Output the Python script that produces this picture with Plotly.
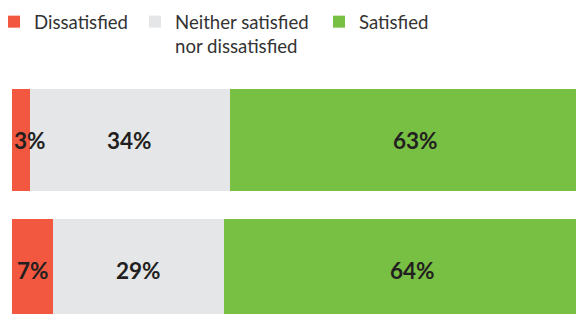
import plotly.graph_objects as go

rows = [0, 1]
categories = ["Dissatisfied", "Neither satisfied<br>nor dissatisfied", "Satisfied"]
dissatisfied = [3, 7]
neither = [34, 29]
satisfied = [63, 64]
colors = ["#F2573F", "#E5E6E8", "#78C044"]
legend_widths = [110, 153, None]

series = [dissatisfied, neither, satisfied]
fig = go.Figure()
for name, vals, col, lw in zip(categories, series, colors, legend_widths):
    fig.add_trace(go.Bar(
        y=rows, x=vals, orientation="h", name=name,
        marker=dict(color=col, line=dict(width=0)),
        legendwidth=lw,
        hoverinfo="skip",
    ))

# value labels placed at segment centres (small segments: left-aligned)
for r in rows:
    start = 0
    for vals in series:
        v = vals[r]
        small = v < 5
        fig.add_annotation(
            x=start if small else start + v / 2, y=r, xref="x", yref="y",
            text=f"{v}%", showarrow=False,
            xanchor="left" if small else "center", xshift=0,
            font=dict(family="Lato", size=22.5, color="#231F20", weight="bold"),
        )
        start += v

fig.update_layout(
    barmode="stack", bargap=0.215,
    width=576, height=306,
    margin=dict(l=4, r=0, t=67, b=0, autoexpand=False),
    paper_bgcolor="white", plot_bgcolor="white",
    xaxis=dict(range=[0, 97.1], visible=False, fixedrange=True),
    yaxis=dict(range=[1.338, -0.5], visible=False, fixedrange=True),
    showlegend=True,
    legend=dict(orientation="h", xref="container", x=0, xanchor="left",
                yref="paper", y=1.301, yanchor="top", valign="top",
                indentation=-14,
                font=dict(family="Lato", size=18.6, color="#333333"),
                traceorder="normal"),
)
fig.write_html("out.html")
